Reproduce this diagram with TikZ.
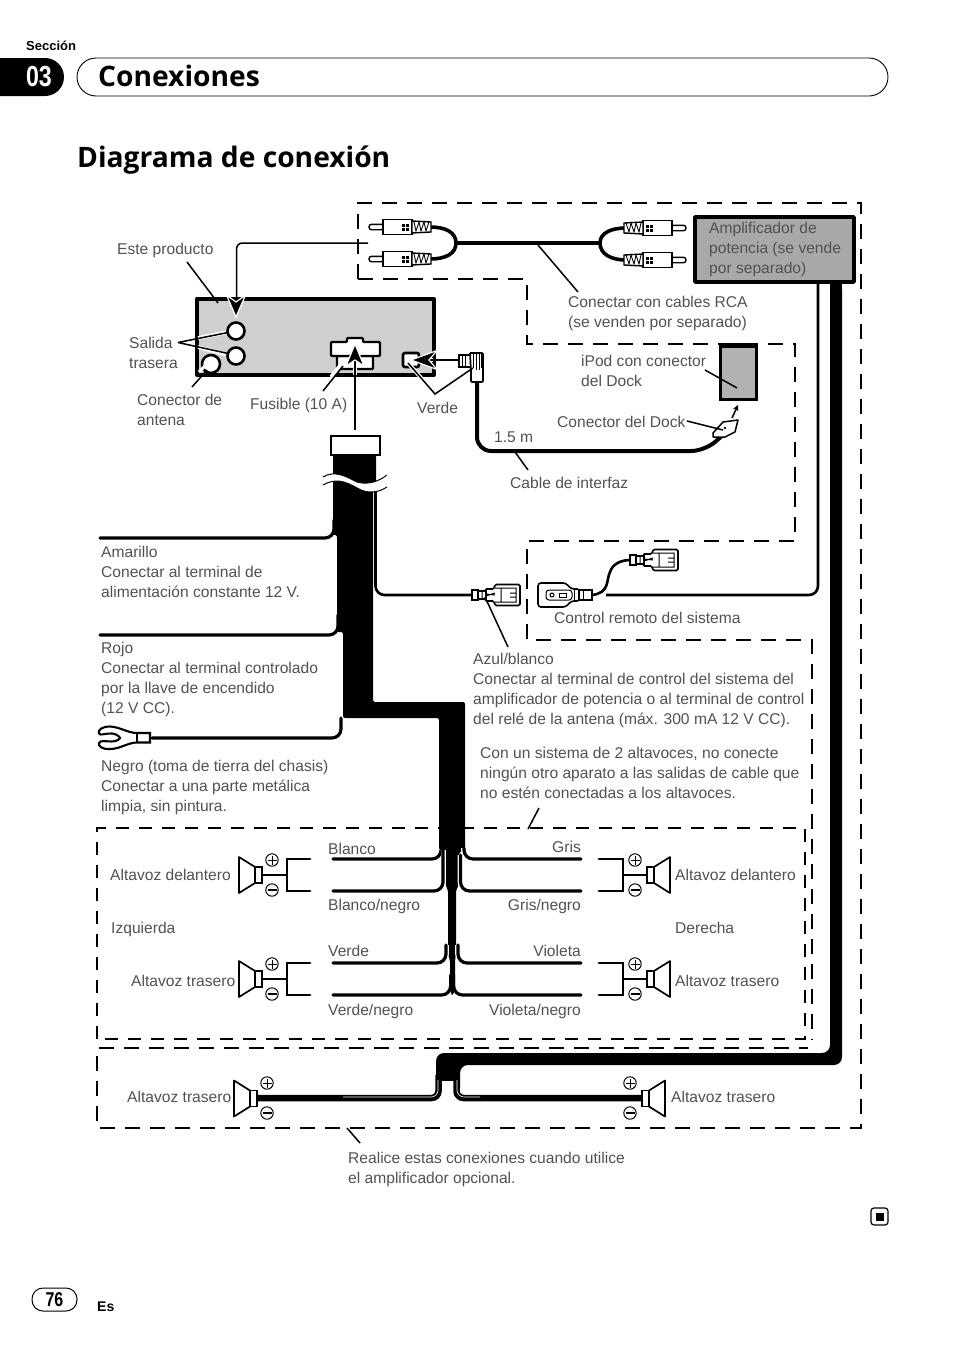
\documentclass[tikz,border=0pt]{standalone}
\usepackage{fontspec}
\setmainfont{Liberation Sans}
\newfontfamily\headfont{Open Sans}
\newfontfamily\numfont[FakeStretch=0.8]{Liberation Sans}
\usetikzlibrary{arrows.meta}
\definecolor{txtc}{gray}{0.32}
\tikzset{
  txt/.style={anchor=base west,inner sep=0pt,align=left,text=txtc,font=\fontsize{15.6}{20}\selectfont},
  txr/.style={anchor=base east,inner sep=0pt,align=right,text=txtc,font=\fontsize{15.6}{20}\selectfont},
  dsh/.style={line width=1.5pt,dash pattern=on 15pt off 10pt},
  dsht/.style={line width=1.2pt,dash pattern=on 13pt off 10pt},
  lead/.style={line width=1.5pt,black},
  halo/.style={line width=3.8pt,white},
  wire/.style={line width=3.2pt,black,rounded corners=9pt,line cap=round},
  wirehalo/.style={line width=4.4pt,white,rounded corners=9pt},
  brk/.style={line width=2.8pt,black,line cap=round,line join=miter},
  ahead/.style={fill=black,draw=white,line width=1.2pt},
  pics/spk/.style={code={
    \draw[line width=1.7pt,fill=white,line join=round] (0,-18)--(16,-8)--(16,8)--(0,18)--cycle;
    \draw[line width=1.7pt,fill=white] (16,-8) rectangle (23,8);
  }},
  pics/pm/.style={code={
    \draw[line width=1pt] (0,-14.5) circle (6.2);
    \draw[line width=1pt] (-4.5,-14.5)--(4.5,-14.5) (0,-19)--(0,-10);
    \draw[line width=1pt] (0,15.5) circle (6.2);
    \draw[line width=1.8pt] (-4.5,15.5)--(4.5,15.5);
  }},
  pics/rca/.style={code={
    \draw[line width=1.4pt,fill=white,rounded corners=2.5pt] (0,-2.7) rectangle (15,2.7);
    \draw[line width=1.5pt,fill=white] (14,-7.5) rectangle (43,7.5);
    \fill[black] (33,-3.5) rectangle (40,3.5);
    \draw[white,line width=.7pt] (36.5,-3.5)--(36.5,3.5) (33,0)--(40,0);
    \draw[line width=1.4pt,fill=white] (43,-6)--(62,-5)--(62,5)--(43,6)--cycle;
    \draw[line width=.9pt] (45,-5)--(47,4)--(50,-5)--(52,4)--(55,-5)--(57,4)--(60,-5);
  }},
  pics/femc/.style={code={
    \draw[line width=1.6pt,fill=white,rounded corners=1.5pt] (13,-6)--(22,-6)--(23,-10.5)--(48,-10.5)--(48,10.5)--(23,10.5)--(22,6)--(13,6)--cycle;
    \draw[line width=1.5pt,fill=white] (0,-5) rectangle (6,5);
    \draw[line width=1.5pt,fill=white] (6,-4) rectangle (14,4);
    \draw[line width=1pt] (23,-7)--(44,-7)--(44,7)--(23,7) (29,-7)--(29,7) (38,-2)--(44,-2) (38,2)--(44,2) (14,-1)--(23,0) (14,1)--(23,-2) (10,-4)--(10,4);
  }},
}
\begin{document}
\begin{tikzpicture}[x=1pt,y=-1pt]
\useasboundingbox (0,0) rectangle (954,1352);
\fill[white] (0,0) rectangle (954,1352);
% header
\node[anchor=base west,inner sep=0pt,font=\fontsize{13}{14}\selectfont\bfseries] (sec) at (26,50) {Sección};
\fill[black,rounded corners=19pt] (-30,58) rectangle (64,96);
\node[anchor=center,inner sep=0pt,text=white,font=\fontsize{29}{30}\numfont\bfseries] (num) at (39,77) {03};
\draw[line width=.9pt,rounded corners=19pt] (77,58) rectangle (888,96);
\node[anchor=base west,inner sep=0pt,font=\fontsize{28.2}{30}\headfont\bfseries] (conx) at (98,86) {Conexiones};
\node[anchor=base west,inner sep=0pt,font=\fontsize{28.2}{30}\headfont\bfseries] (diag) at (77,167) {Diagrama de conexión};
% dashed frames
\draw[dsh] (358,279) -- (358,203) -- (861,203) -- (861,1128) -- (97,1128) -- (97,1048) -- (808,1048);
\draw[dsh] (358,279) -- (527,279) -- (527,344) -- (795,344) -- (795,541) -- (527,541) -- (527,640) -- (812,640) -- (812,1040);
\draw[dsht] (97,1039) -- (97,828) -- (805,828) -- (805,1039) -- cycle;
% unit
\draw[line width=4pt,fill=black!19,line join=round] (197,299) rectangle (434,375);
\draw[line width=2.6pt,fill=white] (236,331) circle (8.5);
\draw[line width=2.6pt,fill=white] (236,356) circle (8.5);
\draw[line width=2.6pt,fill=white] (211,364) circle (9);
\draw[line width=2.2pt,fill=white,rounded corners=1pt] (337,356) rectangle (373,369);
\draw[line width=2.2pt,fill=white,rounded corners=1pt] (331,342) -- (347,342) -- (347,338) -- (363,338) -- (363,342) -- (380,342) -- (380,356) -- (331,356) -- cycle;
\draw[line width=2.6pt,fill=white,rounded corners=2pt] (403,353) rectangle (419,367);
% RCA cable
\draw[line width=4.6pt] (456,243) -- (600,243);
\draw[line width=3.6pt] (430,227) .. controls (445,227) and (456,232) .. (456,243) .. controls (456,254) and (445,259) .. (430,259);
\draw[line width=3.6pt] (626,228) .. controls (611,228) and (600,233) .. (600,243) .. controls (600,254) and (611,260) .. (626,260);
\pic at (369,227) {rca};
\pic at (369,259) {rca};
\pic[xscale=-1] at (686,228) {rca};
\pic[xscale=-1] at (686,260) {rca};
% amp
\draw[line width=2.6pt,rounded corners=9pt] (818,282) -- (818,595) -- (606,595);
\path[fill=black,rounded corners=8pt] (830,282) -- (842,282) -- (842,1065) -- (460,1065) -- (460,1090) -- (460,1080) -- (436,1080) -- (436,1053) -- (830,1053) -- cycle;
\fill[black] (830,275) rectangle (842,300);
\fill[black] (436,1060) rectangle (460,1081);
\draw[line width=3.6pt,fill=black!34,line join=round] (695,217) rectangle (854,282);
% wires lower
\draw[line width=6.5pt,rounded corners=7pt] (438.5,1075) -- (438.5,1098) -- (257,1098);
\draw[line width=6.5pt,rounded corners=7pt] (456.5,1075) -- (456.5,1098) -- (642,1098);
\draw[white,line width=.6pt,rounded corners=7pt] (438,1080) -- (438,1097) -- (343,1097);
\draw[white,line width=.6pt,rounded corners=7pt] (457,1080) -- (457,1097) -- (480,1097);
\pic at (234,1098.5) {spk};
\pic[xscale=-1] at (665,1098.5) {spk};
\pic at (267,1097.5) {pm};
\pic at (630,1097.5) {pm};
% harness
\fill[black,rounded corners=2pt] (333,455) -- (376,455) -- (376,490) -- (373,490) -- (373,702) -- (465,702) -- (465,850) -- (459,852) -- (459,885) -- (456,890) -- (456,955) -- (455,960) -- (455,990) -- (452.2,996) -- (450,990) -- (450,960) -- (448,955) -- (448,890) -- (445.5,885) -- (445.5,852) -- (439,850) -- (439,718) -- (343,718) -- (343,632) -- (337,632) -- (337,535) -- (333,535) -- cycle;
% left wires
\draw[wire] (100,538) -- (334,538) -- (334,520);
\draw[wire] (100,635) -- (338,635) -- (338,615);
\draw[wire] (152,738) -- (341,738) -- (341,718);
\draw[wire,line width=2.6pt] (375.5,488) -- (375.5,595) -- (472,595);
% speaker branches
\foreach \a/\b/\c in {441/850/859, 443/850/891, 446/945/963}{
  \draw[wirehalo] (\a+.6,\b) -- (\a+.6,\c) -- (\a-20,\c);
  \draw[wire] (\a,\b) -- (\a,\c) -- (333,\c);
}
\foreach \a/\b/\c in {464/848/859, 460.5/855/891, 458/945/963}{
  \draw[wirehalo] (\a-.6,\b) -- (\a-.6,\c) -- (\a+20,\c);
  \draw[wire] (\a,\b) -- (\a,\c) -- (581,\c);
}
\draw[wire] (450.6,975) -- (450.6,995) -- (333,995);
\draw[wire] (453.6,975) -- (453.6,995) -- (581,995);
% break in harness
\path[fill=white] (323,477) .. controls (335,470) and (345,476) .. (357,482) .. controls (367,485) and (378,482) .. (387,475) -- (387,487) .. controls (378,493) and (367,494) .. (357,488) .. controls (345,481) and (335,478) .. (323,485) -- cycle;
\draw[line width=1pt] (323,477) .. controls (335,470) and (345,476) .. (357,482) .. controls (367,485) and (378,482) .. (387,475);
\draw[line width=1pt] (323,485) .. controls (335,478) and (345,481) .. (357,488) .. controls (367,494) and (378,493) .. (387,487);
\draw[line width=1.7pt,fill=white] (331,436) rectangle (380,455);
% lug
\draw[line width=2.1pt,fill=white] (150,742.5)--(150,733)--(137,733) .. controls (128,733) and (120,727) .. (110,726.5) .. controls (102,726.5) and (97.5,730) .. (99,733.5) .. controls (100,736) and (106,733) .. (112,733.5) .. controls (118,734) and (120,738) .. (120,738) .. controls (120,738) and (118,741.5) .. (112,741.5) .. controls (106,741.5) and (100,740) .. (99,743) .. controls (98,746) and (102,749.5) .. (110,749) .. controls (120,749) and (128,742.5) .. (137,742.5) -- cycle;
\draw[line width=1.4pt] (137,733)--(137,742.5);
% speakers
\foreach \y in {875,979}{
  \draw[line width=2.8pt] (262,\y) -- (287,\y);
  \draw[line width=2.8pt] (623,\y) -- (647,\y);
  \draw[brk] (310,\y-16) -- (287,\y-16) -- (287,\y+16) -- (310,\y+16);
  \draw[brk] (599,\y-16) -- (623,\y-16) -- (623,\y+16) -- (599,\y+16);
  \pic at (239,\y) {spk};
  \pic[xscale=-1] at (670,\y) {spk};
  \pic at (272,\y-.5) {pm};
  \pic at (635,\y-.5) {pm};
}
% interface cable
\draw[line width=4pt,rounded corners=14pt] (477,378) -- (477,451) -- (705,451) -- (724,434);
\draw[line width=1.6pt,fill=white] (459,355) rectangle (471,367);
\draw[line width=.9pt] (462,355)--(462,367) (465,356)--(465,366);
\draw[line width=1.7pt,fill=white,rounded corners=1pt] (470,353) -- (483,353) -- (483,382) -- (471,382) -- (471,372) -- (470,353);
\draw[line width=.9pt] (473,354)--(473,368) (476,354)--(476,370) (479,354)--(479,370) (481,354)--(481,368);
% iPod
\fill[black] (731,343) rectangle (743,347);
\draw[line width=3pt,fill=black!30] (720,346) rectangle (756,399);
\draw[line width=1.5pt,fill=white,line join=round] (713,433) -- (723,422) -- (738,420) -- (735,432) -- (725,437) -- (713,437) -- cycle;
\fill[black] (725,428) circle (1.3);
\draw[lead,-{Stealth[length=6pt,width=6pt]}] (732,418) -- (738,405);
% remote
\draw[line width=2.6pt] (592,595) .. controls (610,593) and (606,580) .. (610,572) .. controls (613,563) and (622,560) .. (631,560);
\pic at (472,595) {femc};
\pic at (630,560) {femc};
\draw[line width=1.6pt,fill=white,rounded corners=3pt] (538,583) -- (566,583) -- (571,589) -- (580,589) -- (580,601) -- (571,601) -- (566,607) -- (538,607) -- cycle;
\draw[line width=1.4pt,fill=white] (579,590) rectangle (592,600);
\draw[line width=1pt,rounded corners=3pt] (546,590) rectangle (572,600);
\draw[line width=1pt] (552,595) circle (2);
\draw[line width=1pt] (559,593) rectangle (566,597) (574,590)--(574,600) (578,590)--(578,600) (583,590)--(583,600);
% leaders
\draw[lead] (187,262) -- (218,303);
\draw[lead,rounded corners=6pt] (368,243) -- (236.5,243) -- (236.5,300);
\draw[ahead] (236,317) -- (226.5,295) -- (236,302) -- (245.5,295) -- cycle;
\draw[halo] (198,338) -- (226,332.5) (198,347) -- (226,354.5);
\draw[lead] (178,342.5) -- (228,332.5) (178,342.5) -- (228,353.5);
\draw[halo,line width=3pt] (199,372) -- (205,366);
\draw[lead] (192,387) -- (207,370);
\draw[halo] (331,377) -- (343,362);
\draw[lead] (323,391) -- (343,366);
\draw[halo] (355,348) -- (355,375);
\draw[lead,line width=1.6pt] (355,430) -- (355,352);
\draw[ahead] (355,344) -- (346,366) -- (355,360) -- (364,366) -- cycle;
\draw[halo] (408,363) -- (423,380) (433,360) -- (424,360);
\draw[lead] (408,363) -- (435,394) -- (473,368);
\draw[lead] (458,360) -- (428,360);
\draw[ahead] (411,360) -- (437,350.5) -- (429,360) -- (437,369.5) -- cycle;
\draw[lead] (538,245) -- (578,292);
\draw[lead] (515,452) -- (528,470);
\draw[lead] (705,370) -- (737,388);
\draw[lead] (687,421) -- (723,430);
\draw[lead] (485,597) -- (508,647);
\draw[lead] (539,808) -- (528,829);
\draw[lead] (347,1128) -- (360,1143);
% texts
\node[txt] (t1) at (117,254) {Este producto};
\node[txt] (t2) at (129,368) {Salida\\trasera};
\node[txt] (t3) at (137,425) {Conector de\\antena};
\node[txt] (t4) at (250,409) {Fusible (10 A)};
\node[txt] (t5) at (417,413) {Verde};
\node[txt] (t6) at (709,273) {Amplificador de\\potencia (se vende\\por separado)};
\node[txt] (t7) at (568,327) {Conectar con cables RCA\\(se venden por separado)};
\node[txt] (t8) at (581,386) {iPod con conector\\del Dock};
\node[txt] (t9) at (557,427) {Conector del Dock};
\node[txt] (t10) at (494,442) {1.5 m};
\node[txt] (t11) at (510,488) {Cable de interfaz};
\node[txt] (t12) at (101,597) {Amarillo\\Conectar al terminal de\\alimentación constante 12 V.};
\node[txt] (t13) at (101,713) {Rojo\\Conectar al terminal controlado\\por la llave de encendido\\(12 V CC).};
\node[txt] (t14) at (101,811) {Negro (toma de tierra del chasis)\\Conectar a una parte metálica\\limpia, sin pintura.};
\node[txt] (t15) at (554,623) {Control remoto del sistema};
\node[txt] (t16) at (473,724) {Azul/blanco\\Conectar al terminal de control del sistema del\\amplificador de potencia o al terminal de control\\del relé de la antena (máx. 300 mA 12 V CC).};
\node[txt] (t17) at (480,798) {Con un sistema de 2 altavoces, no conecte\\ningún otro aparato a las salidas de cable que\\no estén conectadas a los altavoces.};
\node[txt] (t18) at (328,854) {Blanco};
\node[txt] (t19) at (328,910) {Blanco/negro};
\node[txt] (t20) at (328,956) {Verde};
\node[txt] (t21) at (328,1015) {Verde/negro};
\node[txr] (t22) at (581,852) {Gris};
\node[txr] (t23) at (581,910) {Gris/negro};
\node[txr] (t24) at (581,956) {Violeta};
\node[txr] (t25) at (581,1015) {Violeta/negro};
\node[txt] (t26) at (110,880) {Altavoz delantero};
\node[txt] (t27) at (111,933) {Izquierda};
\node[txt] (t28) at (131,986) {Altavoz trasero};
\node[txt] (t29) at (675,880) {Altavoz delantero};
\node[txt] (t30) at (675,933) {Derecha};
\node[txt] (t31) at (675,986) {Altavoz trasero};
\node[txt] (t32) at (127,1102) {Altavoz trasero};
\node[txt] (t33) at (671,1102) {Altavoz trasero};
\node[txt] (t34) at (348,1183) {Realice estas conexiones cuando utilice\\el amplificador opcional.};
% footer
\draw[line width=1.2pt,rounded corners=3pt] (871,1208) rectangle (888,1225);
\fill[black] (875.5,1212.5) rectangle (883.5,1220.5);
\draw[line width=1pt,rounded corners=11pt] (32,1288) rectangle (77,1311);
\node[anchor=center,inner sep=0pt,font=\fontsize{20}{22}\numfont\bfseries] (pg) at (54.5,1299.5) {76};
\node[anchor=base west,inner sep=0pt,font=\fontsize{14}{14}\selectfont\bfseries] (es) at (97,1311) {Es};
\end{tikzpicture}
\end{document}
